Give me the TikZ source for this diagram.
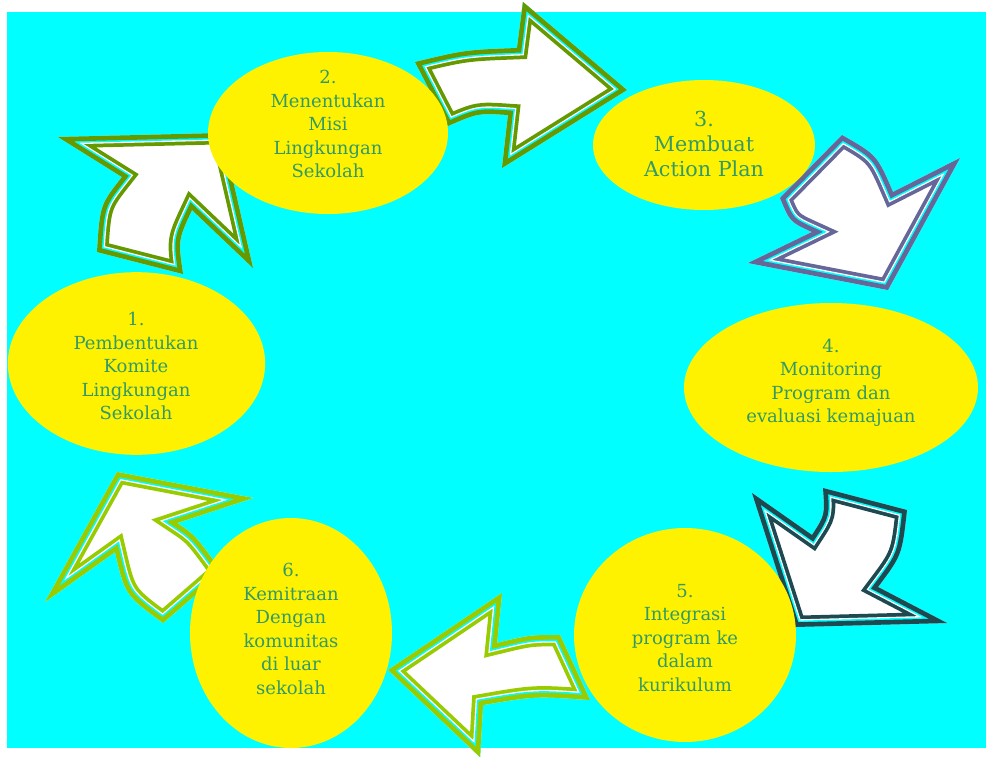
\documentclass[tikz,border=0pt]{standalone}
\usepackage{fontspec}
\setmainfont{DejaVu Serif}
\usetikzlibrary{shapes.geometric}
\definecolor{olivegr}{RGB}{102,153,0}
\definecolor{limegr}{RGB}{153,204,0}
\definecolor{slategr}{RGB}{102,102,153}
\definecolor{darkteal}{RGB}{31,73,81}
\definecolor{txtgr}{RGB}{51,153,102}
\definecolor{bgcyan}{RGB}{0,255,255}
\newcommand\fancyarrow[2]{%
  \fill[white] #2;
  \begin{scope}
    \clip #2;
    \draw[#1, line width=17pt] #2;
    \draw[white, line width=11.4pt] #2;
    \draw[bgcyan, line width=9.4pt] #2;
    \draw[#1, line width=7pt] #2;
  \end{scope}}
\tikzset{
  blob/.style={ellipse, fill=yellow, draw=none, inner sep=0pt},
  txt/.style={align=center, text=txtgr, font=\fontsize{13.5}{17.6}\selectfont, inner sep=0pt},
  txtbig/.style={align=center, text=txtgr, font=\fontsize{15.5}{18.6}\selectfont, inner sep=0pt}
}
\begin{document}
\begin{tikzpicture}[x=0.75pt, y=-0.75pt, line join=miter, miter limit=20]
\useasboundingbox (0,0) rectangle (986,758);
\fill[white] (0,0) rectangle (986,758);
\fill[bgcyan] (7,12) rectangle (986,748);

% arrow 2 -> 3
\fancyarrow{olivegr}{(415,62) .. controls (465,50) .. (517,48) -- (523,2) -- (627,90) -- (502,168) -- (508,115) .. controls (478,113) .. (448,126) -- cycle}
% arrow 3 -> 4
\fancyarrow{slategr}{(780,198) -- (842,135) .. controls (877,155) .. (893,192) -- (960,158) -- (888,290) -- (748,263) -- (812,232) .. controls (790,222) .. (780,198) -- cycle}
% arrow 4 -> 5
\fancyarrow{darkteal}{(823,488) -- (907,510) .. controls (902,555) .. (878,587) -- (947,623) -- (795,627) -- (752,493) -- (812,535) .. controls (825,515) .. (823,488) -- cycle}
% arrow 5 -> 6
\fancyarrow{limegr}{(502,593) -- (497,643) .. controls (530,635) .. (560,635) -- (590,700) .. controls (535,696) .. (483,705) -- (480,757) -- (388,670) -- cycle}
% arrow 6 -> 1
\fancyarrow{limegr}{(117,472) -- (253,498) -- (177,523) .. controls (195,535) .. (222,572) -- (163,623) .. controls (125,595) .. (115,552) -- (45,602) -- cycle}
% arrow 1 -> 2
\fancyarrow{olivegr}{(58,137) -- (222,133) -- (253,268) -- (192,210) .. controls (178,240) .. (183,274) -- (97,252) .. controls (100,205) .. (122,177) -- cycle}

\node[blob, minimum width=193pt, minimum height=137pt] (e1) at (136.5,363.5) {};
\node[blob, minimum width=180pt, minimum height=121.5pt] (e2) at (328,133) {};
\node[blob, minimum width=166.5pt, minimum height=97.5pt] (e3) at (704,145) {};
\node[blob, minimum width=220.5pt, minimum height=126.75pt] (e4) at (831,387.5) {};
\node[blob, minimum width=166.5pt, minimum height=160.5pt] (e5) at (685,635) {};
\node[blob, minimum width=151.5pt, minimum height=172.5pt] (e6) at (291,633) {};

\node[txt] (t1) at (136,366) {1.\\Pembentukan\\Komite\\Lingkungan\\Sekolah};
\node[txt] (t2) at (328,124) {2.\\Menentukan\\Misi\\Lingkungan\\Sekolah};
\node[txtbig] (t3) at (704,144) {3.\\Membuat\\Action Plan};
\node[txt] (t4) at (831,383) {4.\\Monitoring\\Program dan\\evaluasi kemajuan};
\node[txt] (t5) at (685,638) {5.\\Integrasi\\program ke\\dalam\\kurikulum};
\node[txt] (t6) at (291,629) {6.\\Kemitraan\\Dengan\\komunitas\\di luar\\sekolah};
\end{tikzpicture}
\end{document}
